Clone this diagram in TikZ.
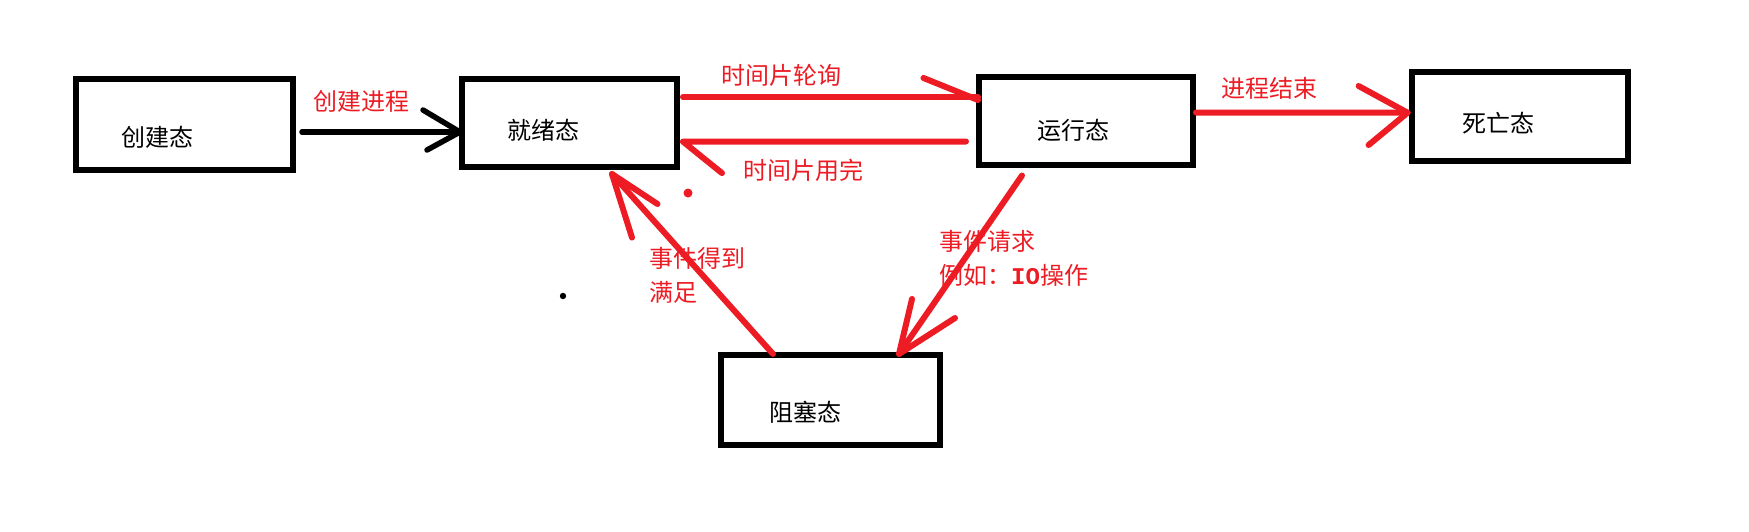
\documentclass[tikz,border=0pt]{standalone}
\usepackage{fontspec}
\setmainfont{Noto Sans CJK SC}
\newfontfamily\cjk{Noto Sans CJK SC}
\newfontfamily\monob{Liberation Mono}
\usetikzlibrary{calc}
\definecolor{pred}{RGB}{237,28,36}
\begin{document}
\begin{tikzpicture}[x=1pt,y=-1pt,
  statebox/.style={draw=black,line width=6pt,inner sep=0pt,fill=white},
  statetext/.style={inner sep=0pt,text=black,font=\cjk\fontsize{24}{28}\selectfont},
  lbl/.style={inner sep=0pt,text=pred,font=\cjk\fontsize{24}{34}\selectfont},
  redline/.style={draw=pred,line width=6pt,line cap=round,line join=round},
  blkline/.style={draw=black,line width=5.5pt,line cap=round,line join=round}]
\useasboundingbox[fill=white] (0,0) rectangle (1749,531);

% boxes
\node[statebox,minimum width=217pt,minimum height=91pt] (cj) at (184.5,124.5) {};
\node[statebox,minimum width=215pt,minimum height=88pt] (jx) at (569.5,123) {};
\node[statebox,minimum width=214pt,minimum height=88pt] (yx) at (1086,120.5) {};
\node[statebox,minimum width=216pt,minimum height=89pt] (sw) at (1520,116.5) {};
\node[statebox,minimum width=219pt,minimum height=90pt] (zs) at (830.5,400) {};

% box texts
\node[statetext] (tcj) at (157,137) {创建态};
\node[statetext] (tjx) at (543,130.5) {就绪态};
\node[statetext] (tyx) at (1073,130) {运行态};
\node[statetext] (tsw) at (1498,122.7) {死亡态};
\node[statetext] (tzs) at (805,412) {阻塞态};

% black arrow: create -> ready
\coordinate (a1s) at ($(cj.east)+(6,7.5)$);
\coordinate (a1t) at ($(jx.west)+(1,9)$);
\draw[blkline] (a1s) -- (a1t);
\draw[blkline] ($(a1t)+(-37,-22)$) -- (a1t) -- ($(a1t)+(-33,18)$);

% red: ready -> running (top)
\coordinate (a2s) at ($(jx.east)+(3,-26)$);
\coordinate (a2t) at ($(yx.west)+(2,-23.5)$);
\draw[redline] (a2s) -- (a2t);
\draw[redline] ($(a2t)+(-54.5,-19)$) -- ($(a2t)+(0,3)$);

% red: running -> ready (bottom)
\coordinate (a3s) at ($(yx.west)+(-10,21)$);
\coordinate (a3t) at ($(jx.east)+(3,18.6)$);
\draw[redline] (a3s) -- (a3t) -- ($(a3t)+(39,31.5)$);

% red: running -> dead
\coordinate (a4s) at ($(yx.east)+(0,-8)$);
\coordinate (a4t) at ($(sw.west)+(-1.4,-3.8)$);
\draw[redline] (a4s) -- (a4t);
\draw[redline] ($(a4t)+(-49,-26.7)$) -- (a4t) -- ($(a4t)+(-39,32.3)$);

% red: blocked -> ready
\coordinate (a5s) at ($(zs.north)+(-57.5,2)$);
\coordinate (a5t) at ($(jx.south)+(42.5,4)$);
\draw[redline] (a5s) -- (a5t);
\draw[redline] ($(a5t)+(45.5,30)$) -- (a5t) -- ($(a5t)+(20,63.6)$);

% red: running -> blocked
\coordinate (a6s) at ($(yx.south)+(-64,8)$);
\coordinate (a6t) at ($(zs.north)+(68.5,2)$);
\draw[redline] (a6s) -- (a6t);
\draw[redline] ($(a6t)+(13,-55)$) -- (a6t) -- ($(a6t)+(56,-36)$);

% labels
\node[lbl] (l1) at (361,101) {创建进程};
\node[lbl] (l2) at (781,75) {时间片轮询};
\node[lbl] (l3) at (803,170) {时间片用完};
\node[lbl] (l4) at (1269,88) {进程结束};
\node[lbl,align=left,anchor=west] (l5) at (649,275.5) {事件得到\\满足};
\node[lbl,align=left,anchor=west] (l6) at (939,258.5) {事件请求\\例如：{\monob\bfseries IO}操作};

% stray dots
\fill[pred] (688,193) circle (4.5);
\fill[black] (563,296) circle (3.2);
\end{tikzpicture}
\end{document}
